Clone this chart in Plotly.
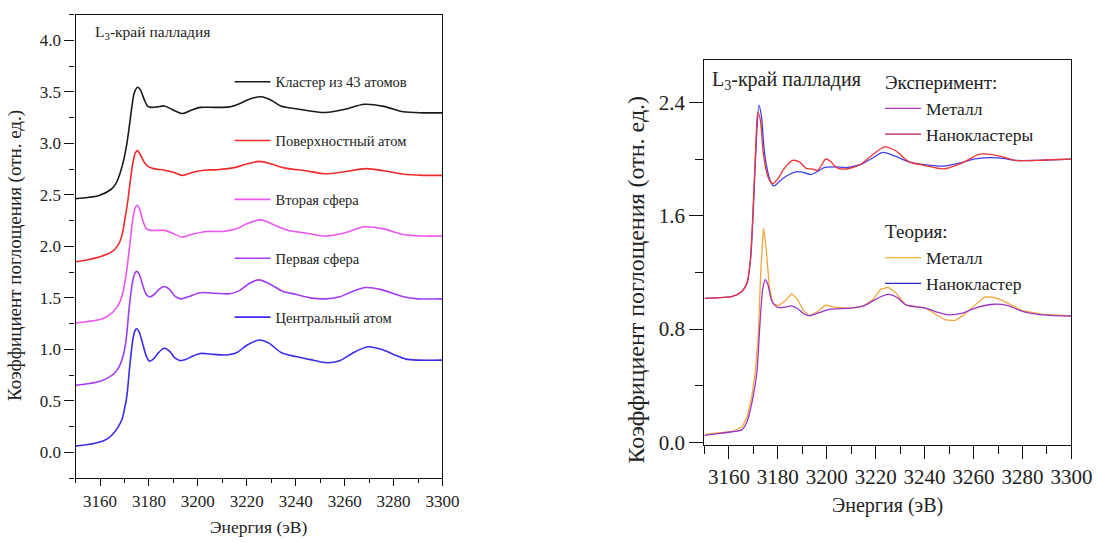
import plotly.graph_objects as go

# ---------------- Left panel: Pd L3-edge, cluster of 43 atoms ----------------
cluster_x = [3150, 3155, 3159.6, 3164.3, 3166.5, 3168.2, 3169.7, 3171, 3172, 3173, 3174, 3175.4, 3176.5, 3178,
             3179.5, 3181, 3183.5, 3186.3, 3189.5, 3193.7, 3197, 3201, 3207, 3213, 3217, 3221, 3225.8, 3230,
             3233.8, 3242, 3252, 3260, 3268, 3276, 3284, 3292, 3300]
cluster_y = [2.463, 2.475, 2.495, 2.55, 2.61, 2.71, 2.84, 3.0, 3.17, 3.35, 3.49, 3.545, 3.52, 3.43,
             3.36, 3.35, 3.355, 3.364, 3.33, 3.29, 3.32, 3.35, 3.35, 3.355, 3.386, 3.43, 3.453, 3.42,
             3.364, 3.33, 3.30, 3.33, 3.38, 3.36, 3.307, 3.297, 3.297]

surface_x = [3150, 3155, 3160, 3163.6, 3166, 3168, 3169.2, 3170.2, 3171.3, 3172.3, 3173.5, 3174.5, 3175.4,
             3176.5, 3178, 3179.7, 3182, 3186.3, 3190, 3193.7, 3198, 3202.4, 3208, 3215.8, 3220, 3225.1,
             3230, 3235.8, 3244, 3252, 3260, 3268.6, 3276, 3284, 3292, 3300]
surface_y = [1.85, 1.87, 1.90, 1.93, 1.97, 2.04, 2.13, 2.27, 2.43, 2.62, 2.82, 2.91, 2.93,
             2.89, 2.82, 2.775, 2.755, 2.74, 2.72, 2.69, 2.72, 2.74, 2.745, 2.77, 2.80, 2.826,
             2.80, 2.76, 2.735, 2.705, 2.725, 2.755, 2.735, 2.70, 2.69, 2.69]

second_x = [3150, 3155, 3160, 3163, 3167, 3169, 3170.5, 3172, 3173.5, 3174.5, 3175.2, 3176.2, 3177.5, 3179,
            3181, 3184, 3186.3, 3189, 3193.7, 3198, 3203.7, 3210, 3215.8, 3220, 3225.8, 3231, 3237, 3244,
            3252, 3260, 3268, 3276, 3284, 3292, 3300]
second_y = [1.254, 1.27, 1.29, 1.32, 1.41, 1.52, 1.70, 1.98, 2.28, 2.38, 2.40, 2.36, 2.25, 2.17,
            2.155, 2.155, 2.155, 2.135, 2.09, 2.12, 2.145, 2.145, 2.17, 2.22, 2.257, 2.21, 2.155, 2.13,
            2.10, 2.13, 2.19, 2.17, 2.115, 2.10, 2.10]

first_x = [3150, 3155, 3160, 3163, 3166, 3168, 3169.5, 3170.7, 3172, 3173.4, 3174.4, 3175, 3176, 3177.5,
           3179, 3180.3, 3182, 3184, 3186.3, 3188.5, 3190.5, 3193, 3196, 3201, 3207, 3213, 3217, 3221,
           3225, 3229, 3234.5, 3240, 3246, 3252, 3258, 3263, 3268.6, 3275, 3284, 3290, 3300]
first_y = [0.65, 0.665, 0.69, 0.72, 0.77, 0.84, 0.94, 1.10, 1.42, 1.67, 1.745, 1.757, 1.73, 1.62,
           1.53, 1.51, 1.53, 1.58, 1.61, 1.58, 1.52, 1.49, 1.51, 1.55, 1.545, 1.54, 1.57, 1.64,
           1.675, 1.64, 1.565, 1.535, 1.50, 1.49, 1.51, 1.56, 1.60, 1.58, 1.51, 1.49, 1.49]

central_x = [3150, 3155, 3160, 3163, 3165, 3167, 3169, 3170, 3171, 3172.3, 3173.6, 3174.5, 3175, 3176,
             3177.5, 3179, 3180.3, 3182, 3184, 3186.3, 3188.5, 3190.5, 3192.8, 3195, 3198, 3201, 3205,
             3211, 3216, 3220, 3225, 3229, 3234, 3240, 3246, 3253, 3258, 3263, 3269.5, 3275, 3280, 3285,
             3290, 3300]
central_y = [0.06, 0.075, 0.10, 0.13, 0.17, 0.23, 0.32, 0.42, 0.55, 0.87, 1.12, 1.19, 1.20, 1.17,
             1.05, 0.93, 0.885, 0.91, 0.97, 1.01, 0.98, 0.92, 0.89, 0.90, 0.935, 0.96, 0.955,
             0.945, 0.97, 1.04, 1.09, 1.06, 0.97, 0.93, 0.90, 0.87, 0.89, 0.96, 1.025, 1.00, 0.95, 0.905,
             0.895, 0.895]

left_names = ["Кластер из 43 атомов", "Поверхностный атом", "Вторая сфера", "Первая сфера", "Центральный атом"]
left_colors = ["#1a1a1a", "#f02a2a", "#ee55ee", "#a23cf2", "#3c2ee8"]

# ---------------- Right panel: experiment vs theory ----------------
exp_nano_x = [3150, 3155, 3161.4, 3165.4, 3167.4, 3168.8, 3170, 3171, 3171.8, 3172.8, 3174, 3175.5, 3177,
              3178.1, 3180, 3182.5, 3186.1, 3188.8, 3191.5, 3194, 3196.2, 3198, 3199.5, 3201.5, 3203.5,
              3205.6, 3209.5, 3213.6, 3218, 3223.7, 3228, 3233.7, 3240, 3247.8, 3255, 3262.5, 3268, 3273,
              3277.2, 3285, 3292, 3300]
exp_nano_y = [1.017, 1.02, 1.03, 1.067, 1.125, 1.3, 1.7, 2.1, 2.33, 2.28, 2.05, 1.90, 1.84,
              1.828, 1.86, 1.93, 1.99, 1.98, 1.935, 1.93, 1.92, 1.96, 2.0, 1.985, 1.945,
              1.93, 1.935, 1.96, 2.02, 2.086, 2.06, 1.98, 1.955, 1.93, 1.97, 2.035, 2.03, 2.01,
              1.99, 1.99, 1.995, 2.0]

exp_metal_x = [3150, 3155, 3161.4, 3165.4, 3167.4, 3168.8, 3170, 3171, 3172.3, 3173.3, 3174.5, 3176, 3177.3,
               3178.5, 3180.5, 3183.5, 3187.5, 3190.5, 3193.5, 3196, 3198.9, 3203, 3208, 3213.6, 3218,
               3223, 3228, 3233.7, 3240, 3247.8, 3255, 3260, 3266.5, 3272, 3277.2, 3285, 3292, 3300]
exp_metal_y = [1.017, 1.02, 1.03, 1.067, 1.125, 1.28, 1.65, 2.05, 2.38, 2.3, 2.05, 1.90, 1.83,
               1.81, 1.84, 1.88, 1.91, 1.905, 1.89, 1.91, 1.94, 1.945, 1.94, 1.96, 2.0,
               2.047, 2.02, 1.98, 1.96, 1.95, 1.975, 2.0, 2.01, 2.005, 1.99, 1.99, 1.995, 2.0]

th_metal_x = [3150, 3155, 3161.4, 3165.4, 3167.5, 3169.4, 3170.8, 3172, 3173, 3174.1, 3175.2, 3176.5, 3178,
              3180.3, 3183, 3185.7, 3188, 3190.5, 3192.8, 3196, 3199.5, 3203, 3209.6, 3215, 3219, 3222,
              3225, 3228, 3232.3, 3240.4, 3245, 3248.4, 3252.4, 3256, 3260, 3264.5, 3268, 3272, 3279.9,
              3288, 3300]
th_metal_y = [0.057, 0.065, 0.077, 0.11, 0.18, 0.33, 0.5, 0.75, 1.2, 1.51, 1.38, 1.1, 0.98,
              0.965, 1.0, 1.05, 1.01, 0.93, 0.894, 0.92, 0.97, 0.955, 0.947, 0.963, 1.01, 1.08,
              1.095, 1.06, 0.97, 0.947, 0.9, 0.864, 0.86, 0.9, 0.96, 1.026, 1.025, 1.0, 0.93,
              0.905, 0.892]

th_nano_x = [3150, 3155, 3161.4, 3165.4, 3167.5, 3169.4, 3171.4, 3172.7, 3173.8, 3174.8, 3176, 3177.5,
             3180.1, 3183, 3185.5, 3188, 3190.5, 3192.8, 3196, 3201.6, 3209.6, 3215, 3220, 3225, 3229,
             3232.3, 3240.4, 3245, 3249.8, 3255, 3261, 3268.6, 3274, 3279.9, 3288, 3300]
th_nano_y = [0.05, 0.06, 0.075, 0.09, 0.15, 0.28, 0.49, 0.84, 1.08, 1.148, 1.11, 1.0,
             0.952, 0.955, 0.963, 0.945, 0.91, 0.894, 0.91, 0.94, 0.947, 0.963, 1.01, 1.044, 1.02,
             0.97, 0.947, 0.92, 0.90, 0.91, 0.95, 0.975, 0.965, 0.925, 0.9, 0.892]

right_legend_groups = ["Эксперимент:", "Эксперимент:", "Теория:", "Теория:"]
right_legend_names = ["Металл", "Нанокластеры", "Металл", "Нанокластер"]
right_legend_colors = ["#b23ac4", "#b81848", "#f2b447", "#2a2ab8"]

FONT = "Liberation Serif"
INK = "#222222"

fig = go.Figure()

left_series = [(cluster_x, cluster_y), (surface_x, surface_y), (second_x, second_y),
               (first_x, first_y), (central_x, central_y)]
for (xs, ys), name, color in zip(left_series, left_names, left_colors):
    fig.add_trace(go.Scatter(
        x=xs, y=ys, mode="lines", name=name, legendgroup=name, legend="legend",
        line=dict(color=color, width=1.6, shape="spline", smoothing=0.8),
        xaxis="x", yaxis="y"))

right_curves = [
    (exp_metal_x, exp_metal_y, "#3f3ff0", "spline"),
    (exp_nano_x, exp_nano_y, "#f03434", "spline"),
    (th_metal_x, th_metal_y, "#f2a73a", "linear"),
    (th_nano_x, th_nano_y, "#9a35c8", "spline"),
]
for xs, ys, color, shape in right_curves:
    fig.add_trace(go.Scatter(
        x=xs, y=ys, mode="lines", showlegend=False,
        line=dict(color=color, width=1.3, shape=shape, smoothing=0.8),
        xaxis="x2", yaxis="y2"))

# legend entries for the right panel, grouped by experiment / theory
for grp, name, color in zip(right_legend_groups, right_legend_names, right_legend_colors):
    fig.add_trace(go.Scatter(
        x=[None], y=[None], mode="lines", name=name, legend="legend2",
        legendgroup=grp, legendgrouptitle=dict(text=grp, font=dict(size=19, family=FONT, color=INK)),
        line=dict(color=color, width=1.3), xaxis="x2", yaxis="y2"))

W, H = 1113, 542


def px_x(p):
    return p / W


def px_y(p):
    return 1 - p / H


axis_common = dict(showline=True, linecolor="#111111", linewidth=1.3, mirror=True,
                   ticks="outside", tickcolor="#111111", tickwidth=1.3, showgrid=False,
                   zeroline=False)

fig.update_layout(
    width=W, height=H,
    margin=dict(l=0, r=0, t=0, b=0),
    paper_bgcolor="white", plot_bgcolor="white",
    font=dict(family=FONT, color=INK),
    xaxis=dict(axis_common, domain=[px_x(77), px_x(451)], range=[3150, 3300],
               tick0=3160, dtick=20, ticklen=7, tickfont=dict(size=17, family=FONT, color=INK),
               minor=dict(dtick=10, tick0=3150, ticklen=4, ticks="outside", tickcolor="#111111"),
               anchor="y"),
    yaxis=dict(axis_common, domain=[px_y(487), px_y(15)], range=[-0.25, 4.25],
               tick0=0, dtick=0.5, tickformat=".1f", ticklen=10,
               tickfont=dict(size=17, family=FONT, color=INK),
               minor=dict(dtick=0.25, tick0=0, ticklen=5, ticks="outside", tickcolor="#111111"),
               anchor="x"),
    xaxis2=dict(axis_common, domain=[px_x(718), px_x(1092)], range=[3150, 3300],
                tick0=3160, dtick=20, ticklen=13, tickfont=dict(size=21, family=FONT, color=INK),
                minor=dict(dtick=10, tick0=3150, ticklen=8, ticks="outside", tickcolor="#111111"),
                anchor="y2"),
    yaxis2=dict(axis_common, domain=[px_y(453), px_y(61)], range=[-0.016, 2.7],
                tick0=0, dtick=0.8, tickformat=".1f", ticklen=14,
                tickfont=dict(size=21, family=FONT, color=INK),
                minor=dict(dtick=0.4, tick0=0, ticklen=8, ticks="outside", tickcolor="#111111"),
                anchor="x2"),
    legend=dict(x=px_x(234), y=px_y(67), xanchor="left", yanchor="top",
                bgcolor="rgba(0,0,0,0)", font=dict(size=14.5, family=FONT, color=INK),
                tracegroupgap=37, itemwidth=36),
    legend2=dict(x=px_x(897), y=px_y(64), xanchor="left", yanchor="top",
                 bgcolor="rgba(0,0,0,0)", font=dict(size=17.5, family=FONT, color=INK),
                 tracegroupgap=70, itemwidth=36),
    annotations=[
        dict(text="L<sub>3</sub>-край палладия", x=px_x(95), y=px_y(33), xref="paper", yref="paper",
             xanchor="left", yanchor="middle", showarrow=False, font=dict(size=15.5, family=FONT, color=INK)),
        dict(text="L<sub>3</sub>-край палладия", x=px_x(724), y=px_y(82), xref="paper", yref="paper",
             xanchor="left", yanchor="middle", showarrow=False, font=dict(size=20, family=FONT, color=INK)),
        dict(text="Энергия (эВ)", x=px_x(263), y=px_y(537), xref="paper", yref="paper",
             xanchor="center", yanchor="middle", showarrow=False, font=dict(size=17.5, family=FONT, color=INK)),
        dict(text="Энергия (эВ)", x=px_x(905), y=px_y(515), xref="paper", yref="paper",
             xanchor="center", yanchor="middle", showarrow=False, font=dict(size=20, family=FONT, color=INK)),
        dict(text="Коэффициент поглощения (отн. ед.)", x=px_x(15), y=px_y(260), xref="paper", yref="paper",
             xanchor="center", yanchor="middle", textangle=-90, showarrow=False,
             font=dict(size=19, family=FONT, color=INK)),
        dict(text="Коэффициент поглощения (отн. ед.)", x=px_x(648), y=px_y(285), xref="paper", yref="paper",
             xanchor="center", yanchor="middle", textangle=-90, showarrow=False,
             font=dict(size=24, family=FONT, color=INK)),
    ],
)

fig.write_html("out.html")
